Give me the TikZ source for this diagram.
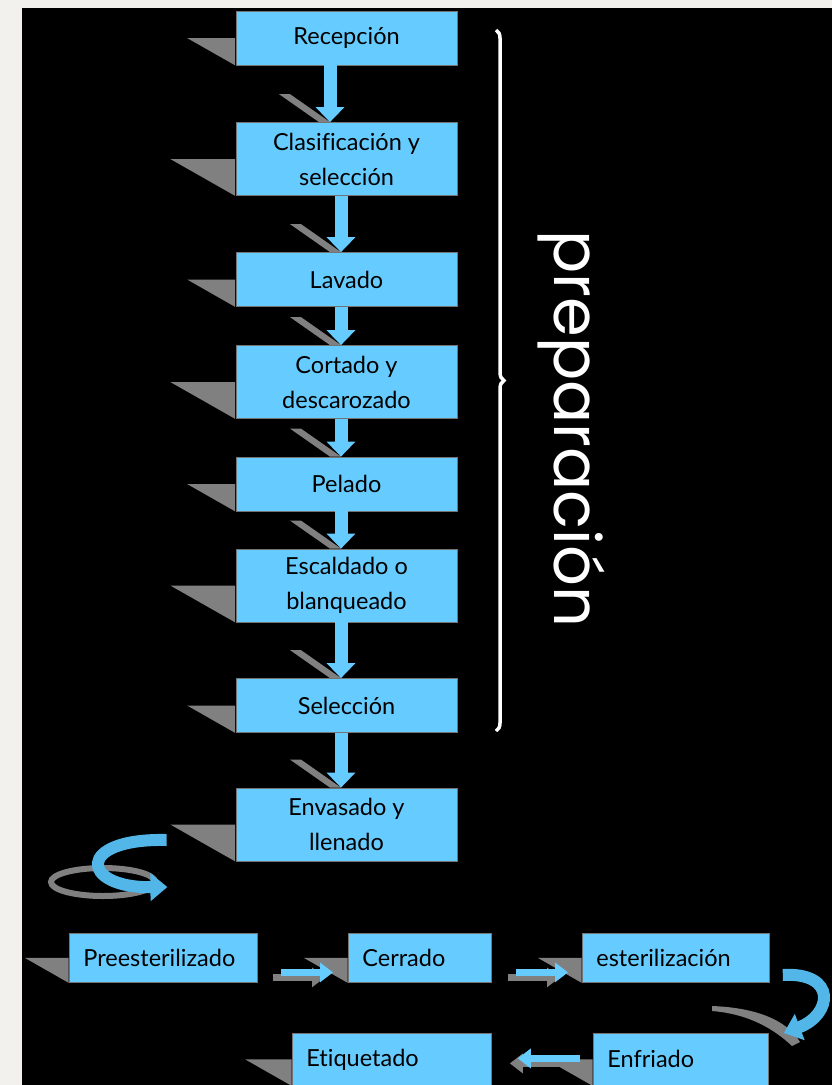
\documentclass[tikz,border=0pt]{standalone}
\usepackage{fontspec}
\setmainfont{Lato}[Ligatures=NoCommon]
\newfontfamily\bracefont{Poppins}
\usepackage{tikz}
\usetikzlibrary{
    arrows.meta,
    calc,
    decorations.pathreplacing
}
\definecolor{boxblue}{RGB}{102,204,255}
\definecolor{curveblue}{RGB}{82,182,232}
\definecolor{shadowgrey}{RGB}{128,128,128}
\definecolor{pagegrey}{RGB}{242,241,237}
\newcommand{\boxshadow}[1]{
    \fill[shadowgrey] ($(#1.west)!1.77!-90:(#1.south west)$) -- ([xshift=-0.4pt]#1.west) -- ([xshift=-0.4pt]#1.south west) -- cycle;
}
\newcommand{\tipshadow}[1]{
    \fill[shadowgrey] (#1) -- ++(-11, 0) -- ++(-40, -28) -- ++(11, 0) -- cycle;
}
\tikzset{
    stepbox/.style={draw=black!55, line width=0.8pt, fill=boxblue, inner sep=0pt,
        font=\fontsize{23.5}{35}\selectfont},
    onerow/.style={stepbox, minimum width=221pt, minimum height=54pt, align=center},
    tworow/.style={stepbox, minimum width=221pt, minimum height=73pt, align=center},
    lowbox/.style={stepbox, anchor=north west, minimum height=49pt, inner xsep=14pt, align=left},
    downarrow/.style={draw=boxblue, line width=13pt, -{Triangle[width=28pt, length=15pt]}},
    sidearrow/.style={draw=boxblue, line width=7pt, -{Triangle[width=19pt, length=13pt]}},
    sideshadow/.style={sidearrow, draw=shadowgrey},
    curvearrow/.style={draw=curveblue, line width=12pt, -{Triangle[width=27pt, length=17pt]}}
}

\begin{document}
\begin{tikzpicture}[x=1pt, y=-1pt]
    \path[use as bounding box, fill=pagegrey] (0, 0) rectangle (832, 1085);
    \fill[black] (22, 8) rectangle (832, 1085);

    % main column
    \node[onerow] (rec) at (346.5, 38) {Recepción};
    \node[tworow] (cla) at (346.5, 159) {Clasificación y\\selección};
    \node[onerow] (lav) at (346.5, 279.5) {Lavado};
    \node[tworow] (cor) at (346.5, 382) {Cortado y\\descarozado};
    \node[onerow] (pel) at (346.5, 484) {Pelado};
    \node[tworow] (esc) at (346.5, 585.5) {Escaldado o\\blanqueado};
    \node[onerow] (sel) at (346.5, 705.5) {Selección};
    \node[tworow] (env) at (346.5, 824.5) {Envasado y\\llenado};

    % bottom rows
    \node[lowbox, text width=160pt] (pre) at (69, 933) {Preesterilizado};
    \node[lowbox, text width=115pt] (cer) at (348, 933) {Cerrado};
    \node[lowbox, text width=159pt] (est) at (582, 933) {esterilización};
    \node[lowbox, text width=147pt, minimum height=52pt] (enf) at (593, 1033) {Enfriado};
    \node[lowbox, text width=171pt, minimum height=52pt] (eti) at (292, 1033) {Etiquetado};

    \foreach \b in {rec, cla, lav, cor, pel, esc, sel, env, pre, cer, est, enf, eti} {
        \boxshadow{\b}
    }

    \tipshadow{$(cla.north)+(-16.5, 0)$}
    \draw[downarrow] ($(rec.south)+(-16.5, 0)$) -- ($(cla.north)+(-16.5, 0)$);
    \foreach \a/\b in {cla/lav, lav/cor, cor/pel, pel/esc, esc/sel, sel/env} {
        \tipshadow{$(\b.north)+(-5.5, 0)$}
        \draw[downarrow] ($(\a.south)+(-5.5, 0)$) -- ($(\b.north)+(-5.5, 0)$);
    }

    \draw[sideshadow] ($(pre.east)+(15, 19.5)$) -- ($(cer.west)+(-23, 19.5)$);
    \draw[sidearrow] ($(pre.east)+(23, 14.5)$) -- ($(cer.west)+(-15, 14.5)$);
    \draw[sideshadow] ($(cer.east)+(16, 19.5)$) -- ($(est.west)+(-22, 19.5)$);
    \draw[sidearrow] ($(cer.east)+(24, 14.5)$) -- ($(est.west)+(-14, 14.5)$);
    \draw[sideshadow] ($(enf.west)+(-21, 4)$) -- ($(eti.east)+(18, 4)$);
    \draw[sidearrow] ($(enf.west)+(-13, -1)$) -- ($(eti.east)+(26, -1)$);

    % turning arrows
    \draw[shadowgrey, line width=6pt] (103, 882) ellipse [x radius=52, y radius=14];
    \draw[curvearrow] ($(env.west)+(-69, 15.5)$) .. controls (75, 838) and (80, 888) .. ($(pre.north)+(4, -46)$);
    \fill[shadowgrey] (712, 1006) .. controls (765, 1008) and (790, 1025) .. (800, 1042)
        -- (792, 1046) .. controls (775, 1030) and (750, 1014) .. (712, 1011) -- cycle;
    \draw[curvearrow] ($(est.east)+(13, 17)$) .. controls (838, 972) and (832, 1015) .. ($(enf.north east)+(15, 0)$);

    % brace
    \coordinate (bracetop) at (496, 30);
    \coordinate (bracebot) at (496, 731);
    \draw[white, line width=3.5pt, decorate, decoration={brace, amplitude=8pt}] (bracetop) -- (bracebot);
    \node[white, font=\bracefont\fontsize{64}{64}\selectfont, rotate=-90, anchor=base] (prep) at (554, 429) {preparación};
\end{tikzpicture}
\end{document}
